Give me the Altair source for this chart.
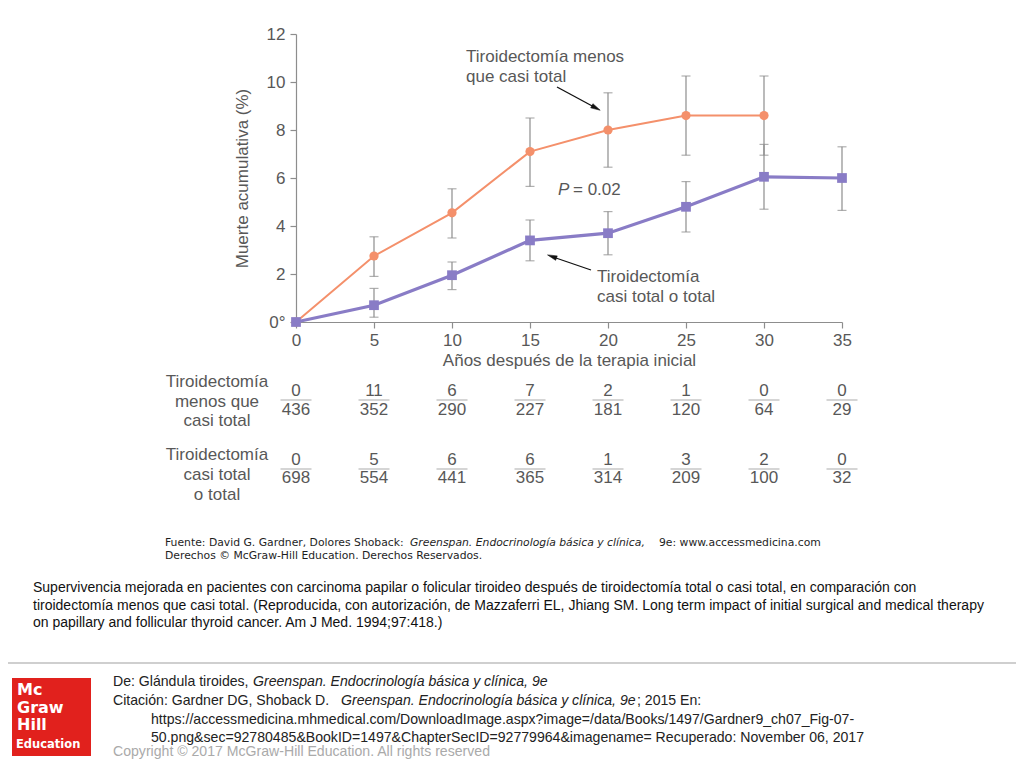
import altair as alt
import pandas as pd

# ---------------- data ----------------
years = [0, 5, 10, 15, 20, 25, 30, 35]

less_years = [0, 5, 10, 15, 20, 25, 30]
less_pct = [0.0, 2.75, 4.55, 7.1, 8.0, 8.6, 8.6]
less_err_years = [5, 10, 15, 20, 25, 30]
less_lo = [1.9, 3.5, 5.65, 6.45, 6.95, 6.95]
less_hi = [3.55, 5.55, 8.5, 9.55, 10.25, 10.25]

total_years = [0, 5, 10, 15, 20, 25, 30, 35]
total_pct = [0.0, 0.7, 1.95, 3.4, 3.7, 4.8, 6.05, 6.0]
total_err_years = [5, 10, 15, 20, 25, 30, 35]
total_lo = [0.2, 1.35, 2.55, 2.8, 3.75, 4.7, 4.65]
total_hi = [1.4, 2.5, 4.25, 4.6, 5.85, 7.4, 7.3]

less_deaths = [0, 11, 6, 7, 2, 1, 0, 0]
less_at_risk = [436, 352, 290, 227, 181, 120, 64, 29]
total_deaths = [0, 5, 6, 6, 1, 3, 2, 0]
total_at_risk = [698, 554, 441, 365, 314, 209, 100, 32]

x_title = "Años después de la terapia inicial"
y_title = "Muerte acumulativa (%)"

caption_lines = [
    "Supervivencia mejorada en pacientes con carcinoma papilar o folicular tiroideo después de tiroidectomía total o casi total, en comparación con",
    "tiroidectomía menos que casi total. (Reproducida, con autorización, de Mazzaferri EL, Jhiang SM. Long term impact of initial surgical and medical therapy",
    "on papillary and follicular thyroid cancer. Am J Med. 1994;97:418.)",
]

# ---------------- styling ----------------
ORANGE = "#F4906B"
PURPLE = "#897CC6"
GRAY = "#8d8d8d"
TXT = "#585858"
FONT = "Liberation Sans"
OX, OY = 296, 34  # page position of plot origin
W, H = 546, 288

less_df = pd.DataFrame({"year": less_years, "pct": less_pct})
total_df = pd.DataFrame({"year": total_years, "pct": total_pct})
less_err = pd.DataFrame({"year": less_err_years, "lo": less_lo, "hi": less_hi})
total_err = pd.DataFrame({"year": total_err_years, "lo": total_lo, "hi": total_hi})
table_df = pd.DataFrame({
    "year": years,
    "ld": less_deaths, "lr": less_at_risk,
    "td": total_deaths, "tr": total_at_risk,
})

xscale = alt.Scale(domain=[0, 35], nice=False, zero=False)
yscale = alt.Scale(domain=[0, 12], nice=False)
xaxis = alt.Axis(values=years, title=x_title, grid=False, domainColor=GRAY, tickColor=GRAY,
                 tickSize=6, labelFontSize=17, labelColor=TXT, labelFont=FONT, labelPadding=4,
                 titleFontSize=17, titleColor=TXT, titleFont=FONT, titleFontWeight="normal",
                 titlePadding=4, domainWidth=1.2, tickWidth=1.2, labelFlush=False)
yaxis = alt.Axis(values=[0, 2, 4, 6, 8, 10, 12], title=y_title, grid=False, domainColor=GRAY,
                 tickColor=GRAY, tickSize=6, labelFontSize=17, labelColor=TXT, labelFont=FONT,
                 labelPadding=5, titleFontSize=17, titleColor=TXT, titleFont=FONT,
                 titleFontWeight="normal", titlePadding=15, domainWidth=1.2, tickWidth=1.2,
                 labelExpr="datum.value == 0 ? '0°' : datum.label")


def X(f):
    return alt.X(f, type="quantitative", scale=xscale, axis=xaxis)


def Y(f):
    return alt.Y(f, type="quantitative", scale=yscale, axis=yaxis)


one = alt.Data(values=[{"k": 1}])


def txt(text, px, py, size=17, align="left", color=TXT, font=FONT, style="normal",
        weight="normal", baseline="middle"):
    return alt.Chart(one).mark_text(
        text=text, align=align, baseline=baseline, fontSize=size, color=color, font=font,
        fontStyle=style, fontWeight=weight
    ).encode(x=alt.value(px - OX), y=alt.value(py - OY))


def seg(x1, y1, x2, y2, color="#111", width=1.3):
    return alt.Chart(one).mark_rule(color=color, strokeWidth=width).encode(
        x=alt.value(x1 - OX), y=alt.value(y1 - OY), x2=alt.value(x2 - OX), y2=alt.value(y2 - OY))


ARROW = "M0,-1L0.5,1L-0.5,1Z"


def head(px, py, angle):
    return alt.Chart(one).mark_point(shape=ARROW, filled=True, fill="#111", stroke="#111",
                                     strokeWidth=0.5, size=90, angle=angle, opacity=1).encode(
        x=alt.value(px - OX), y=alt.value(py - OY))


layers = []
# error bars
for err in (less_err, total_err):
    layers.append(alt.Chart(err).mark_rule(color=GRAY, strokeWidth=1.2).encode(
        x=X("year"), y=Y("lo"), y2="hi"))
    layers.append(alt.Chart(err).mark_tick(orient="horizontal", size=9, thickness=1.2,
                                           color=GRAY).encode(x=X("year"), y=Y("lo")))
    layers.append(alt.Chart(err).mark_tick(orient="horizontal", size=9, thickness=1.2,
                                           color=GRAY).encode(x=X("year"), y=Y("hi")))

layers += [
    alt.Chart(less_df).mark_line(color=ORANGE, strokeWidth=2).encode(x=X("year"), y=Y("pct")),
    alt.Chart(less_df).mark_circle(color=ORANGE, size=85, opacity=1).encode(x=X("year"), y=Y("pct")),
    alt.Chart(total_df).mark_line(color=PURPLE, strokeWidth=3.2).encode(x=X("year"), y=Y("pct")),
    alt.Chart(total_df).mark_square(color=PURPLE, size=95, opacity=1).encode(x=X("year"), y=Y("pct")),
]

# annotations in plot
layers += [
    txt("Tiroidectomía menos", 466, 57),
    txt("que casi total", 466, 77),
    seg(557, 87, 595, 107.5),
    head(596, 108, 118),
    txt("P", 558, 190, style="italic"),
    txt("= 0.02", 573, 190),
    txt("Tiroidectomía", 597, 277),
    txt("casi total o total", 597, 297),
    seg(591, 270, 553, 257),
    head(552, 256.5, 290),
]

# number-at-risk table
row_specs = [("ld", "lr", 391, 410, 400), ("td", "tr", 460, 478, 469)]
for num, den, yn, yd, yl in row_specs:
    layers.append(alt.Chart(table_df).mark_text(fontSize=17, color=TXT, font=FONT,
                                                baseline="middle").encode(
        x=X("year"), y=alt.value(yn - OY), text=alt.Text(num + ":N")))
    layers.append(alt.Chart(table_df).mark_text(fontSize=17, color=TXT, font=FONT,
                                                baseline="middle").encode(
        x=X("year"), y=alt.value(yd - OY), text=alt.Text(den + ":N")))
    layers.append(alt.Chart(table_df).mark_tick(orient="horizontal", size=31, thickness=1,
                                                color="#888").encode(
        x=X("year"), y=alt.value(yl - OY)))

layers += [
    txt("Tiroidectomía", 217, 382, align="center"),
    txt("menos que", 217, 402, align="center"),
    txt("casi total", 217, 421, align="center"),
    txt("Tiroidectomía", 217, 455, align="center"),
    txt("casi total", 217, 475, align="center"),
    txt("o total", 217, 495, align="center"),
]

# source lines
SF = "DejaVu Sans"
SC = "#1e1e1e"
SS = 10.8
layers += [
    txt("Fuente: David G. Gardner, Dolores Shoback:", 165, 543, size=SS, color=SC, font=SF),
    txt("Greenspan. Endocrinología básica y clínica,", 410, 543, size=SS, color=SC, font=SF, style="italic"),
    txt("9e: www.accessmedicina.com", 659, 543, size=SS, color=SC, font=SF),
    txt("Derechos © McGraw-Hill Education. Derechos Reservados.", 165, 556, size=SS, color=SC, font=SF),
]

# caption
for i, line in enumerate(caption_lines):
    layers.append(txt(line, 33, 588 + i * 17.5, size=14, color="#111"))

# separator
layers.append(seg(5, 663, 1024, 663, color="#cfcfcf", width=2))

# logo
LF = "DejaVu Sans"
layers.append(alt.Chart(one).mark_rect(color="#E1211D").encode(
    x=alt.value(12 - OX), x2=alt.value(91 - OX), y=alt.value(678 - OY), y2=alt.value(756 - OY)))
layers += [
    txt("Mc", 17, 690, size=16, color="white", font=LF, weight="bold"),
    txt("Graw", 17, 707.5, size=16, color="white", font=LF, weight="bold"),
    txt("Hill", 17, 725, size=16, color="white", font=LF, weight="bold"),
    txt("Education", 16, 745, size=11.5, color="white", font=LF, weight="bold"),
]

# footer text
FS = 14.1
FC = "#222"
layers += [
    txt("De: Glándula tiroides,", 113, 682, size=FS, color=FC),
    txt("Greenspan. Endocrinología básica y clínica, 9e", 253, 682, size=FS, color=FC, style="italic"),
    txt("Citación: Gardner DG, Shoback D.", 113, 701, size=FS, color=FC),
    txt("Greenspan. Endocrinología básica y clínica, 9e", 341, 701, size=FS, color=FC, style="italic"),
    txt("; 2015 En:", 637, 701, size=FS, color=FC),
    txt("https://accessmedicina.mhmedical.com/DownloadImage.aspx?image=/data/Books/1497/Gardner9_ch07_Fig-07-", 151, 720, size=FS, color=FC),
    txt("50.png&sec=92780485&BookID=1497&ChapterSecID=92779964&imagename= Recuperado: November 06, 2017", 151, 738, size=FS, color=FC),
    txt("Copyright © 2017 McGraw-Hill Education. All rights reserved", 113, 752, size=FS, color="#aaaaaa"),
]

chart = alt.layer(*layers).properties(
    width=W, height=H,
    padding={"left": 288, "top": 26, "right": 174, "bottom": 438},
    autosize=alt.AutoSizeParams(type="none"),
    background="white",
).configure_view(stroke=None)

chart.save("out.html", embed_options={"renderer": "svg", "actions": False})
